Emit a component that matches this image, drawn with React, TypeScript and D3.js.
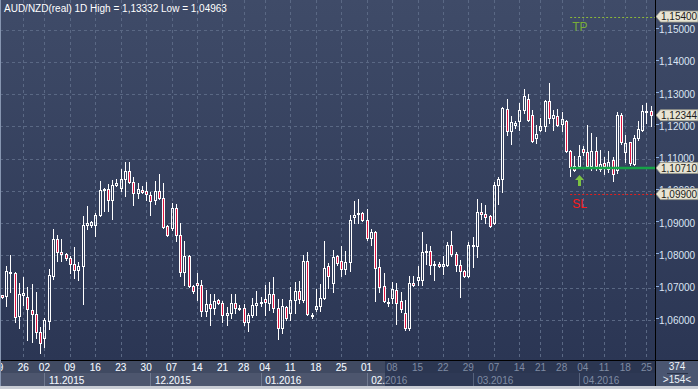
import React from 'react';
import * as d3 from 'd3';

// daily candles, AUD/NZD, oldest first
const openP = [
  1.0676, 1.0675, 1.0745, 1.0745, 1.0611, 1.0676, 1.0672, 1.0630, 1.0619, 1.0564,
  1.0543, 1.0598, 1.0735, 1.0851, 1.0811, 1.0804, 1.0793, 1.0773, 1.0755, 1.0766,
  1.0895, 1.0895, 1.0895, 1.0925, 1.1004, 1.1007, 1.0972, 1.1019, 1.1009, 1.1038,
  1.1063, 1.1028, 1.0994, 1.1004, 1.1000, 1.0988, 1.0971, 1.1000, 1.0979, 1.0892,
  1.0884, 1.0948, 1.0864, 1.0748, 1.0799, 1.0706, 1.0714, 1.0708, 1.0629, 1.0650,
  1.0636, 1.0661, 1.0652, 1.0617, 1.0621, 1.0652, 1.0638, 1.0636, 1.0595, 1.0614,
  1.0645, 1.0653, 1.0664, 1.0654, 1.0681, 1.0636, 1.0574, 1.0639, 1.0621, 1.0662,
  1.0690, 1.0662, 1.0784, 1.0612, 1.0635, 1.0642, 1.0668, 1.0768, 1.0714, 1.0797,
  1.0784, 1.0758, 1.0779, 1.0918, 1.0929, 1.0932, 1.0910, 1.0853, 1.0874, 1.0764,
  1.0706, 1.0652, 1.0668, 1.0692, 1.0658, 1.0621, 1.0574, 1.0714, 1.0725, 1.0724,
  1.0811, 1.0815, 1.0770, 1.0773, 1.0766, 1.0770, 1.0832, 1.0804, 1.0770, 1.0752,
  1.0735, 1.0828, 1.0828, 1.0936, 1.0929, 1.0921, 1.0899, 1.1017, 1.1036, 1.1255,
  1.1184, 1.1205, 1.1218, 1.1251, 1.1285, 1.1235, 1.1164, 1.1189, 1.1200, 1.1277,
  1.1226, 1.1231, 1.1207, 1.1217, 1.1125, 1.1076, 1.1076, 1.1129, 1.1121, 1.1076,
  1.1125, 1.1067, 1.1086, 1.1069, 1.1096, 1.1065, 1.1236, 1.1122, 1.1150, 1.1084,
  1.1164, 1.1189, 1.1244, 1.1248,
];
const highP = [
  1.0678, 1.0768, 1.0801, 1.0750, 1.0714, 1.0734, 1.0702, 1.0711, 1.0686, 1.0579,
  1.0605, 1.0759, 1.0882, 1.0862, 1.0851, 1.0809, 1.0797, 1.0826, 1.0781, 1.0922,
  1.0952, 1.0908, 1.0930, 1.1032, 1.1010, 1.1022, 1.1034, 1.1038, 1.1069, 1.1088,
  1.1088, 1.1042, 1.1024, 1.1015, 1.1027, 1.0997, 1.1032, 1.1051, 1.1024, 1.0893,
  1.0961, 1.0958, 1.0901, 1.0846, 1.0801, 1.0709, 1.0745, 1.0725, 1.0694, 1.0681,
  1.0680, 1.0666, 1.0660, 1.0640, 1.0681, 1.0681, 1.0647, 1.0649, 1.0623, 1.0667,
  1.0691, 1.0671, 1.0709, 1.0718, 1.0732, 1.0666, 1.0666, 1.0642, 1.0701, 1.0719,
  1.0722, 1.0802, 1.0811, 1.0623, 1.0696, 1.0710, 1.0844, 1.0778, 1.0818, 1.0802,
  1.0828, 1.0815, 1.0924, 1.0970, 1.0976, 1.0934, 1.0944, 1.0882, 1.0876, 1.0790,
  1.0745, 1.0668, 1.0719, 1.0716, 1.0688, 1.0662, 1.0737, 1.0735, 1.0768, 1.0874,
  1.0836, 1.0828, 1.0784, 1.0781, 1.0799, 1.0843, 1.0877, 1.0810, 1.0787, 1.0754,
  1.0841, 1.0857, 1.0976, 1.0961, 1.0955, 1.0924, 1.1028, 1.1042, 1.1259, 1.1285,
  1.1231, 1.1215, 1.1272, 1.1317, 1.1300, 1.1251, 1.1205, 1.1226, 1.1282, 1.13332,
  1.1251, 1.1254, 1.1244, 1.1220, 1.1127, 1.1107, 1.1143, 1.1138, 1.1205, 1.1179,
  1.1167, 1.1127, 1.1105, 1.1125, 1.1105, 1.1243, 1.1241, 1.1174, 1.1153, 1.1174,
  1.1215, 1.1267, 1.1272, 1.1262,
];
const lowP = [
  1.0669, 1.0642, 1.0688, 1.0595, 1.0574, 1.0647, 1.0538, 1.0533, 1.0543, 1.04963,
  1.0515, 1.0572, 1.0727, 1.0782, 1.0782, 1.0785, 1.0745, 1.0730, 1.0723, 1.0649,
  1.0882, 1.0888, 1.0859, 1.0922, 1.0937, 1.0937, 1.0913, 1.1015, 1.1001, 1.0984,
  1.1025, 1.0957, 1.0978, 1.0994, 1.0973, 1.0926, 1.0960, 1.0976, 1.0884, 1.0859,
  1.0880, 1.0844, 1.0737, 1.0707, 1.0701, 1.0685, 1.0662, 1.0611, 1.0611, 1.0583,
  1.0618, 1.0649, 1.0595, 1.0583, 1.0605, 1.0621, 1.0631, 1.0585, 1.0567, 1.0608,
  1.0616, 1.0642, 1.0614, 1.0631, 1.0624, 1.0540, 1.0561, 1.0600, 1.0600, 1.0623,
  1.0654, 1.0657, 1.0617, 1.0605, 1.0628, 1.0628, 1.0666, 1.0700, 1.0688, 1.0771,
  1.0737, 1.0743, 1.0751, 1.0901, 1.0901, 1.0907, 1.0849, 1.0833, 1.0660, 1.0688,
  1.0657, 1.0644, 1.0652, 1.0588, 1.0626, 1.0569, 1.0569, 1.0704, 1.0709, 1.0709,
  1.0774, 1.0743, 1.0723, 1.0763, 1.0743, 1.0766, 1.0799, 1.0751, 1.0670, 1.0733,
  1.0733, 1.0763, 1.0795, 1.0913, 1.0901, 1.0888, 1.0896, 1.0958, 1.0998, 1.1174,
  1.1146, 1.1195, 1.1189, 1.1241, 1.1215, 1.1151, 1.1148, 1.1184, 1.1184, 1.1210,
  1.1189, 1.1200, 1.1184, 1.1122, 1.1045, 1.1063, 1.1074, 1.1112, 1.1076, 1.1065,
  1.1065, 1.1062, 1.1053, 1.1057, 1.1032, 1.1055, 1.1146, 1.1091, 1.1081, 1.1081,
  1.1158, 1.1184, 1.1210, 1.1200,
];
const closeP = [
  1.0672, 1.0751, 1.0750, 1.0608, 1.0680, 1.0683, 1.0633, 1.0618, 1.0564, 1.0528,
  1.0599, 1.0739, 1.0851, 1.0811, 1.0804, 1.0792, 1.0773, 1.0755, 1.0768, 1.0895,
  1.0902, 1.0903, 1.0926, 1.1004, 1.1007, 1.0972, 1.1019, 1.1023, 1.1038, 1.1063,
  1.1028, 1.0994, 1.1007, 1.0997, 1.0989, 1.0969, 1.1000, 1.0979, 1.0888, 1.0864,
  1.0948, 1.0864, 1.0748, 1.0799, 1.0704, 1.0689, 1.0708, 1.0629, 1.0650, 1.0636,
  1.0659, 1.0652, 1.0617, 1.0623, 1.0652, 1.0636, 1.0633, 1.0595, 1.0616, 1.0647,
  1.0653, 1.0655, 1.0655, 1.0681, 1.0636, 1.0574, 1.0644, 1.0605, 1.0662, 1.0690,
  1.0664, 1.0784, 1.0619, 1.0616, 1.0644, 1.0669, 1.0762, 1.0737, 1.0796, 1.0776,
  1.0758, 1.0780, 1.0909, 1.0926, 1.0931, 1.0909, 1.0853, 1.0874, 1.0761, 1.0702,
  1.0660, 1.0656, 1.0696, 1.0654, 1.0633, 1.0576, 1.0714, 1.0708, 1.0733, 1.0812,
  1.0815, 1.0770, 1.0773, 1.0766, 1.0773, 1.0832, 1.0804, 1.0770, 1.0751, 1.0735,
  1.0832, 1.0832, 1.0936, 1.0929, 1.0918, 1.0891, 1.1017, 1.1038, 1.1257, 1.1184,
  1.1213, 1.1210, 1.1251, 1.1293, 1.1220, 1.1155, 1.1176, 1.1200, 1.1277, 1.1226,
  1.1234, 1.1205, 1.1224, 1.1125, 1.1074, 1.1065, 1.1109, 1.1121, 1.1078, 1.1125,
  1.1076, 1.1083, 1.1076, 1.1088, 1.1053, 1.1236, 1.1150, 1.1148, 1.1086, 1.1164,
  1.1191, 1.1248, 1.1248, 1.12344,
];

// weekly date labels and the bar they sit on
const dayLabels = ['19', '26', '02', '09', '16', '23', '30', '07', '14', '21', '28', '04', '11', '18',
  '25', '01', '08', '15', '22', '29', '07', '14', '21', '28', '04', '11', '18', '25'];
const dayIdx = [-1, 5, 10, 16, 22, 28, 34, 40, 46, 52, 57, 62, 68, 74,
  80, 86, 92, 98, 104, 110, 116, 122, 127, 132, 137, 142, 147, 152];

const monthLabels = ['11.2015', '12.2015', '01.2016', '02.2016', '03.2016', '04.2016'];
const monthIdx = [10, 35, 61, 86, 111, 136];

const priceTicks = [1.06, 1.07, 1.08, 1.09, 1.10, 1.11, 1.12, 1.13, 1.14, 1.15];

const lastPrice = 1.12344;
const tpLevel = 1.154;
const entryLevel = 1.1071;
const slLevel = 1.099;
const tradeIdx = 134;
const arrowIdx = 136;

const W = 698;
const plotR = 655;
const plotB = 360;
const hiEnd = 385; // end of the lighter part of the time axis

const fontF = '"Liberation Sans", Arial, sans-serif';
const fmt = (v: number) => d3.format('.5f')(v).replace('.', ',');

const App = () => {
  const x = d3.scaleLinear().domain([0, openP.length - 1]).range([2, 650.7]);
  const y = d3.scaleLinear().domain([1.06, 1.15]).range([320, 29.5]);
  const bars = d3.range(openP.length);

  const markers = [tpLevel, lastPrice, entryLevel, slLevel];
  const xTrade = x(tradeIdx);
  const ax = Math.round(x(arrowIdx)) + 0.5;
  const ay = Math.round(y(entryLevel)) + 7;

  const axisTexts = (
    <g fontFamily={fontF} fontSize={10}>
      {dayLabels.map((t, i) => (
        <text key={'d' + i} x={x(dayIdx[i])} y={371} textAnchor="middle">{t}</text>
      ))}
      {monthLabels.map((t, i) => (
        <text key={'m' + i} x={x(monthIdx[i]) + 4.5} y={384}>{t}</text>
      ))}
    </g>
  );

  return (
    <svg width={W} height={389} style={{ display: 'block', position: 'absolute', left: 0, top: 0 }}>
      <defs>
        <linearGradient id="bg" x1="0" y1="0" x2="0" y2="1">
          <stop offset="0%" stopColor="#3f4b68" />
          <stop offset="100%" stopColor="#2b3654" />
        </linearGradient>
        <clipPath id="plot"><rect x={0} y={0} width={plotR} height={plotB} /></clipPath>
        <clipPath id="hi"><rect x={0} y={plotB} width={hiEnd} height={30} /></clipPath>
        <clipPath id="axisArea"><rect x={0} y={plotB} width={plotR} height={30} /></clipPath>
      </defs>

      <rect x={0} y={0} width={W} height={plotB} fill="url(#bg)" />

      {/* grid */}
      <g stroke="#5a6884" strokeWidth={1} strokeDasharray="3,3">
        {priceTicks.map(p => (
          <line key={p} x1={0} x2={plotR} y1={Math.round(y(p)) + 0.5} y2={Math.round(y(p)) + 0.5} />
        ))}
        {dayIdx.map(i => (
          <line key={i} x1={Math.round(x(i)) + 0.5} x2={Math.round(x(i)) + 0.5} y1={0} y2={plotB} />
        ))}
      </g>

      {/* candles */}
      <g clipPath="url(#plot)">
        {bars.map(i => {
          const o = openP[i], c = closeP[i];
          const cx = Math.round(x(i));
          const wx = cx + 0.5;
          const top = Math.round(y(Math.max(o, c))) + 0.5;
          const bot = Math.round(y(Math.min(o, c))) + 0.5;
          const hy = Math.round(y(highP[i]));
          const ly = Math.round(y(lowP[i])) + 1;
          const up = c >= o;
          return (
            <g key={i}>
              {up ? (
                <>
                  <line x1={wx} x2={wx} y1={hy} y2={top} stroke="#ffffff" />
                  <line x1={wx} x2={wx} y1={bot} y2={ly} stroke="#ffffff" />
                  <rect x={cx - 0.5} y={top} width={2} height={bot - top} fill="none" stroke="#ffffff" />
                </>
              ) : (
                <>
                  <line x1={wx} x2={wx} y1={hy} y2={ly} stroke="#ffffff" />
                  <rect x={cx - 0.5} y={top} width={2} height={bot - top} fill="#e01440" stroke="#ffffff" />
                </>
              )}
            </g>
          );
        })}
      </g>

      {/* trade levels */}
      <line x1={xTrade} x2={plotR} y1={Math.round(y(tpLevel)) + 0.5} y2={Math.round(y(tpLevel)) + 0.5}
        stroke="#8cb83a" strokeDasharray="2,2" />
      <text x={xTrade + 2} y={31} fill="#79ad38" fontFamily={fontF} fontSize={12}>TP</text>
      <line x1={xTrade} x2={plotR} y1={y(entryLevel)} y2={y(entryLevel)} stroke="#16a247" strokeWidth={2.5} />
      <line x1={xTrade} x2={plotR} y1={Math.round(y(slLevel)) + 0.5} y2={Math.round(y(slLevel)) + 0.5}
        stroke="#e0201e" strokeDasharray="2,2" />
      <text x={xTrade + 2} y={208} fill="#ff1a1a" fontFamily={fontF} fontSize={12}>SL</text>
      <path d={`M${ax},${ay} L${ax + 4.5},${ay + 5} L${ax + 1.5},${ay + 5} L${ax + 1.5},${ay + 11} L${ax - 1.5},${ay + 11} L${ax - 1.5},${ay + 5} L${ax - 4.5},${ay + 5} Z`}
        fill="#7cc243" />

      {/* right price axis */}
      <g fontFamily={fontF} fontSize={10} fill="#dbe5f4">
        {priceTicks.map(p => (
          <g key={p}>
            <line x1={656} x2={659} y1={Math.round(y(p)) - 1.5} y2={Math.round(y(p)) - 1.5} stroke="#8fb0e0" />
            <text x={659} y={y(p) + 3.5}>{fmt(p)}</text>
          </g>
        ))}
      </g>
      {markers.map(p => {
        const my = y(p);
        return (
          <g key={p}>
            <path d={`M656,${my} L660.5,${my - 5.5} L698,${my - 5.5} L698,${my + 5.5} L660.5,${my + 5.5} Z`}
              fill="#e7e4d3" stroke="#9a9a8c" strokeWidth={0.8} />
            <text x={661} y={my + 3.6} fontFamily={fontF} fontSize={10} fill="#1b1b1b">{fmt(p)}</text>
          </g>
        );
      })}

      {/* time axis */}
      <rect x={0} y={plotB} width={plotR} height={13} fill="#2b3651" />
      <rect x={0} y={plotB + 13} width={plotR} height={13} fill="#2e3955" />
      {monthIdx.map((m, i) => (
        <line key={i} x1={Math.round(x(m)) + 0.5} x2={Math.round(x(m)) + 0.5} y1={plotB + 13} y2={plotB + 26}
          stroke="#56627c" />
      ))}
      <rect x={0} y={plotB} width={hiEnd} height={13} fill="#ffffff" opacity={0.1} />
      <rect x={0} y={plotB + 13} width={hiEnd} height={13} fill="#ffffff" opacity={0.15} />
      <g fill="#7f8ba3" clipPath="url(#axisArea)">{axisTexts}</g>
      <g fill="#eef2f8" clipPath="url(#hi)">{axisTexts}</g>

      {/* bar count box */}
      <rect x={656} y={plotB} width={42} height={26} fill="#4a5671" />
      <text x={677} y={370} textAnchor="middle" fontFamily={fontF} fontSize={10} fill="#eef2f8">374</text>
      <line x1={667} x2={688} y1={373.5} y2={373.5} stroke="#2a3349" />
      <text x={677} y={383} textAnchor="middle" fontFamily={fontF} fontSize={10} fill="#eef2f8">&gt;154&lt;</text>

      {/* separators and frame */}
      <line x1={0} x2={W} y1={plotB + 0.5} y2={plotB + 0.5} stroke="#000000" />
      <line x1={plotR + 0.5} x2={plotR + 0.5} y1={0} y2={386} stroke="#000000" />
      <rect x={0} y={386} width={W} height={3} fill="#c8ccd4" />
      <line x1={0.5} x2={0.5} y1={0} y2={386} stroke="#8796b1" />

      <text x={4} y={12} fontFamily={fontF} fontSize={10} fill="#ffffff">
        AUD/NZD(real) 1D High = 1,13332 Low = 1,04963
      </text>
    </svg>
  );
};

export default App;
